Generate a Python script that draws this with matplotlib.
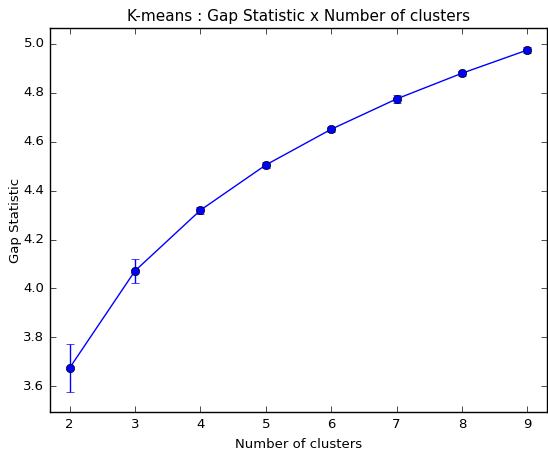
import matplotlib
matplotlib.use("Agg")
import matplotlib.pyplot as plt

plt.style.use("classic")

# Gap statistic per number of clusters, with its standard error
n_clusters = [2, 3, 4, 5, 6, 7, 8, 9]
gap_values = [3.675, 4.072, 4.320, 4.505, 4.651, 4.775, 4.880, 4.975]
gap_errors = [0.100, 0.050, 0.014, 0.014, 0.010, 0.016, 0.010, 0.013]

fig = plt.figure(figsize=(5.48, 4.5), dpi=100)
ax = fig.add_axes([50 / 548, 38 / 450, 497 / 548, 384 / 450])

line, caps, bars = ax.errorbar(n_clusters, gap_values, yerr=gap_errors,
                               fmt="-o", color="b", ecolor="b", mec="k",
                               markersize=6, capsize=3, lw=1)
for cap in caps:
    cap.set_markeredgecolor("b")

ax.set_xlim(1.7, 9.3)
ax.set_ylim(3.495, 5.065)
ax.set_xticks(n_clusters)
ax.set_yticks([3.6, 3.8, 4.0, 4.2, 4.4, 4.6, 4.8, 5.0])

fs = 9.5
ax.tick_params(labelsize=fs)
ax.set_title("K-means : Gap Statistic x Number of clusters", fontsize=11)
ax.set_xlabel("Number of clusters", fontsize=fs)
ax.set_ylabel("Gap Statistic", fontsize=fs, labelpad=1)

fig.savefig("out.png", dpi=100)
